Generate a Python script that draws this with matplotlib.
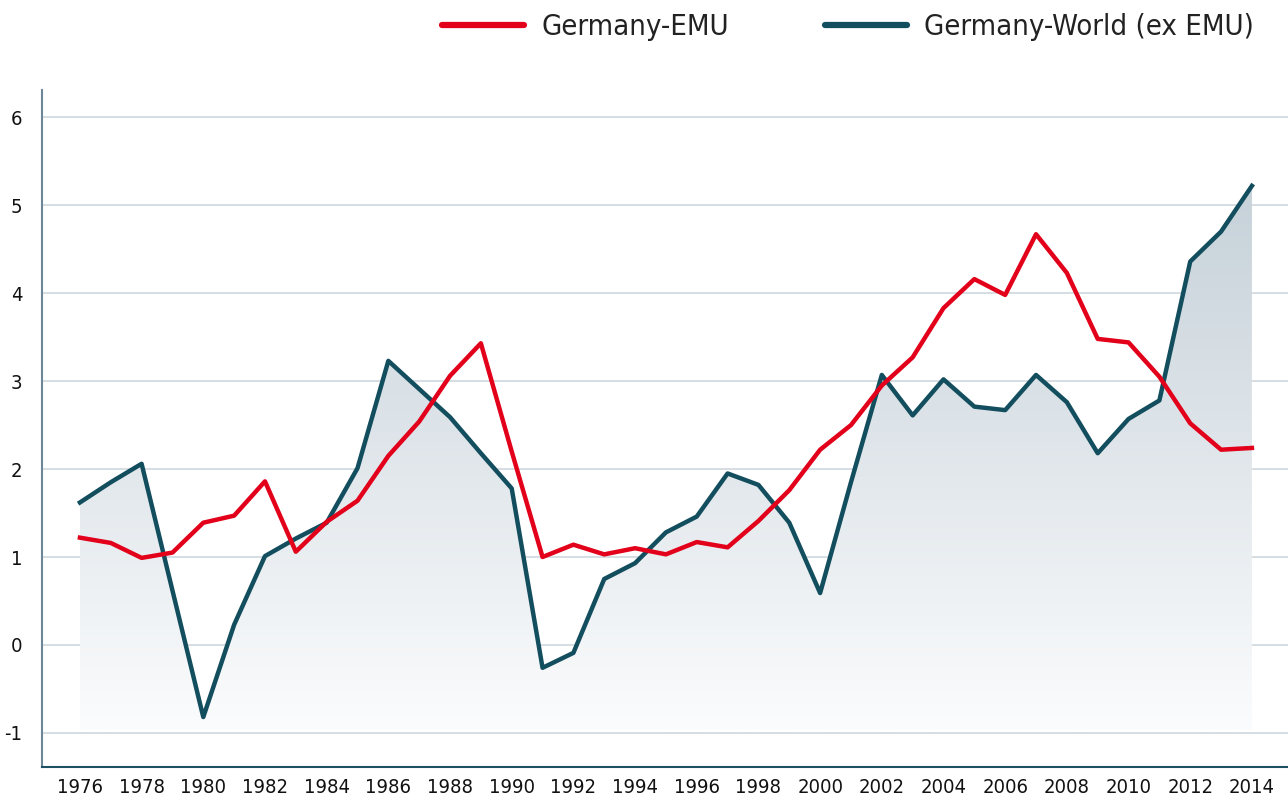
import numpy as np
import matplotlib.pyplot as plt
from matplotlib.colors import LinearSegmentedColormap
from matplotlib.font_manager import FontProperties

plt.rcParams['axes.unicode_minus'] = False

years = list(range(1976, 2015))

# Germany-EMU
emu = [1.22, 1.16, 0.99, 1.05, 1.39, 1.47, 1.86, 1.06, 1.40, 1.64,
       2.15, 2.54, 3.06, 3.43, 2.20, 1.00, 1.14, 1.03, 1.10, 1.03,
       1.17, 1.11, 1.41, 1.76, 2.22, 2.50, 2.95, 3.27, 3.83, 4.16,
       3.98, 4.67, 4.23, 3.48, 3.44, 3.05, 2.52, 2.22, 2.24]

# Germany-World (ex EMU)
world = [1.62, 1.85, 2.06, 0.62, -0.82, 0.23, 1.01, 1.21, 1.39, 2.01,
         3.23, 2.91, 2.59, 2.18, 1.78, -0.26, -0.09, 0.75, 0.93, 1.28,
         1.46, 1.95, 1.82, 1.39, 0.59, 1.85, 3.07, 2.61, 3.02, 2.71,
         2.67, 3.07, 2.76, 2.18, 2.57, 2.78, 4.36, 4.70, 5.22]

yticks = [-1, 0, 1, 2, 3, 4, 5, 6]
xticks = list(range(1976, 2015, 2))

red = '#e2001a'
teal = '#134e5e'
tick_font = FontProperties(family='DejaVu Sans', stretch='condensed', size=14.5)
leg_font = FontProperties(family='DejaVu Sans', stretch='condensed',
                          weight='light', size=21)

fig = plt.figure(figsize=(12.88, 8), dpi=100)
ax = fig.add_axes([0.0326, 0.041, 0.9674, 0.8465])
ax.set_xlim(1974.77, 2015.17)
ax.set_ylim(-1.39, 6.31)

# gradient area under the world line
cmap = LinearSegmentedColormap.from_list('g', ['#fbfcfd', '#c6d1d9'])
grad = np.linspace(0, 1, 256).reshape(-1, 1)
img = ax.imshow(grad, cmap=cmap, origin='lower', aspect='auto',
                extent=[years[0], years[-1], -0.97, max(world)], zorder=1)
poly = ax.fill_between(years, world, -0.97, color='none', lw=0)
img.set_clip_path(poly.get_paths()[0], transform=ax.transData)

ax.plot(years, emu, color=red, lw=3.2, label='Germany-EMU', zorder=4)
ax.plot(years, world, color=teal, lw=3.2, label='Germany-World (ex EMU)', zorder=3)

ax.set_yticks(yticks)
ax.set_xticks(xticks)
ax.yaxis.grid(True, color='#cfd8de', lw=1.2)
ax.set_axisbelow(True)
ax.tick_params(length=0, colors='#111111')
ax.tick_params(axis='y', pad=14)
ax.tick_params(axis='x', pad=8)
for lab in ax.get_xticklabels() + ax.get_yticklabels():
    lab.set_fontproperties(tick_font)
for s in ['top', 'right']:
    ax.spines[s].set_visible(False)
ax.spines['left'].set_color('#6d8796')
ax.spines['left'].set_linewidth(1.5)
ax.spines['bottom'].set_color('#1e5064')
ax.spines['bottom'].set_linewidth(1.5)

leg = fig.legend(loc='upper right', bbox_to_anchor=(0.9935, 1.016), ncol=2,
                 frameon=False, handlelength=2.8, columnspacing=3.3,
                 handletextpad=0.58, prop=leg_font, labelcolor='#222222')
for line in leg.get_lines():
    line.set_linewidth(4.5)
    line.set_solid_capstyle('round')

fig.savefig('out.png', dpi=100)
